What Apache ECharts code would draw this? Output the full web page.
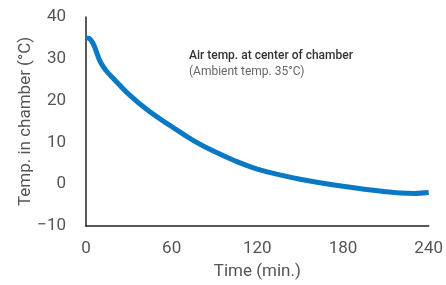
<!DOCTYPE html>
<html>
<head>
<meta charset="utf-8">
<script src="https://cdn.jsdelivr.net/npm/echarts@6/dist/echarts.min.js"></script>
<style>
  html, body { margin: 0; padding: 0; background: #fff; }
</style>
</head>
<body>
<div id="chart" style="width: 446px;height: 285px;"></div>
<script>
// minutes
var times = [0, 2, 4, 6, 8, 10, 14, 20, 30, 44, 60, 75, 90, 105, 120, 135, 150, 165, 180, 195, 210, 220, 230, 240];
// °C
var temps = [35, 34.9, 34.2, 32.9, 31, 29.3, 27.2, 25, 21.5, 17.5, 13.8, 10.5, 7.8, 5.5, 3.6, 2.3, 1.2, 0.3, -0.5, -1.2, -1.8, -2.1, -2.2, -2.0];
var xTicks = [0, 60, 120, 180, 240];
var yTicks = [-10, 0, 10, 20, 30, 40];

var points = times.map(function (t, i) { return [t, temps[i]]; });

var myChart = echarts.init(document.getElementById("chart"));
myChart.setOption({
  animation: false,
  textStyle: { fontFamily: "Roboto" },
  grid: { left: 86, right: 14, top: 17, bottom: 58 },
  graphic: [
    {
      type: "text",
      left: 189,
      top: 50,
      style: {
        text: "Air temp. at center of chamber",
        fill: "#333",
        fontSize: 12,
        fontWeight: 500,
        fontFamily: "Roboto",
      },
    },
    {
      type: "text",
      left: 189,
      top: 66,
      style: {
        text: "(Ambient temp. 35°C)",
        fill: "#666",
        fontSize: 12,
        fontFamily: "Roboto",
      },
    },
  ],
  xAxis: {
    type: "value",
    min: xTicks[0],
    max: xTicks[xTicks.length - 1],
    interval: 60,
    name: "Time (min.)",
    nameLocation: "middle",
    nameGap: 37,
    nameMoveOverlap: false,
    nameTextStyle: { color: "#555", fontSize: 17 },
    axisLine: { show: true, onZero: false, lineStyle: { color: "#222", width: 1.5 } },
    axisTick: { show: false },
    splitLine: { show: false },
    axisLabel: { color: "#555", fontSize: 17, margin: 14 },
  },
  yAxis: {
    type: "value",
    min: yTicks[0],
    max: yTicks[yTicks.length - 1],
    interval: 10,
    name: "Temp. in chamber (°C)",
    nameLocation: "middle",
    nameGap: 52,
    nameMoveOverlap: false,
    nameTextStyle: { color: "#555", fontSize: 17 },
    axisLine: { show: true, onZero: false, lineStyle: { color: "#222", width: 1.5 } },
    axisTick: { show: false },
    splitLine: { show: false },
    axisLabel: {
      color: "#555",
      fontSize: 17,
      margin: 20,
      formatter: function (v) { return v < 0 ? "\u2212" + Math.abs(v) : v; },
    },
  },
  series: [
    {
      type: "line",
      data: points,
      smooth: 0.4,
      showSymbol: false,
      lineStyle: { color: "#0a79c4", width: 5 },
    },
  ],
});
</script>
</body>
</html>
